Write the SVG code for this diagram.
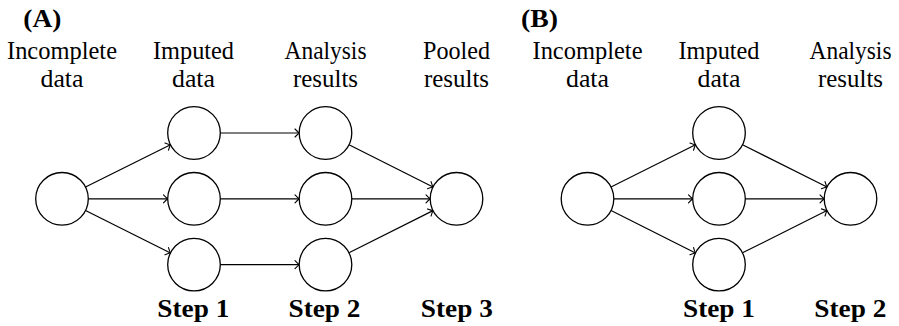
<svg xmlns="http://www.w3.org/2000/svg" width="899" height="326" viewBox="0 0 899 326">
  <style>
    .node { fill: #fff; stroke: #000; stroke-width: 1.3; }
    .edge { fill: none; stroke: #000; stroke-width: 1.2; marker-end: url(#arr); }
    .lbl { font-size: 24.4px; text-anchor: middle; }
    .bold { font-size: 25px; font-weight: bold; }
    .step { text-anchor: middle; }
  </style>
  <defs>
    <!-- open curved arrowhead, tip at the line end -->
    <marker id="arr" markerUnits="userSpaceOnUse" viewBox="-6 -5 7 10" refX="0" refY="0" markerWidth="7" markerHeight="10" orient="auto" overflow="visible">
      <path d="M -4.2 -4 Q -1.2 -0.9 0 0 Q -1.2 0.9 -4.2 4" fill="none" stroke="#000" stroke-width="1.1" stroke-linecap="round"/>
    </marker>
  </defs>

  <!-- Panel A -->
  <g id="panelA-labels" font-family="Liberation Serif, Tinos, Times New Roman, Times, FreeSerif, Noto Serif, DejaVu Serif, serif" fill="#000">
    <text class="bold" x="23.3" y="26.7" textLength="38" lengthAdjust="spacingAndGlyphs">(A)</text>
    <text class="lbl" x="62" y="59.3" textLength="110" lengthAdjust="spacingAndGlyphs">Incomplete</text>
    <text class="lbl" x="62" y="87.3" textLength="43" lengthAdjust="spacingAndGlyphs">data</text>
    <text class="lbl" x="193.5" y="59.3" textLength="81" lengthAdjust="spacingAndGlyphs">Imputed</text>
    <text class="lbl" x="193.5" y="87.3" textLength="43" lengthAdjust="spacingAndGlyphs">data</text>
    <text class="lbl" x="325.5" y="59.3" textLength="82" lengthAdjust="spacingAndGlyphs">Analysis</text>
    <text class="lbl" x="325.5" y="87.3" textLength="65" lengthAdjust="spacingAndGlyphs">results</text>
    <text class="lbl" x="456.5" y="59.3" textLength="67" lengthAdjust="spacingAndGlyphs">Pooled</text>
    <text class="lbl" x="456.5" y="87.3" textLength="65" lengthAdjust="spacingAndGlyphs">results</text>
    <text class="bold step" x="193.3" y="316.7" textLength="72" lengthAdjust="spacingAndGlyphs">Step 1</text>
    <text class="bold step" x="324.5" y="316.7" textLength="72" lengthAdjust="spacingAndGlyphs">Step 2</text>
    <text class="bold step" x="456.8" y="316.7" textLength="72" lengthAdjust="spacingAndGlyphs">Step 3</text>
  </g>

  <g id="edgesA">
    <line class="edge" x1="85.54" y1="187.07" x2="170.46" y2="144.73"/>
    <line class="edge" x1="88.3" y1="198.8" x2="167.7" y2="198.8"/>
    <line class="edge" x1="85.54" y1="210.53" x2="170.46" y2="253.07"/>
    <line class="edge" x1="220.3" y1="133" x2="299.2" y2="133"/>
    <line class="edge" x1="220.3" y1="198.8" x2="299.2" y2="198.8"/>
    <line class="edge" x1="220.3" y1="264.6" x2="299.2" y2="264.6"/>
    <line class="edge" x1="349" y1="144.8" x2="433" y2="187"/>
    <line class="edge" x1="351.8" y1="198.8" x2="430.2" y2="198.8"/>
    <line class="edge" x1="349" y1="252.8" x2="433" y2="210.6"/>
  </g>

  <g id="a-incomplete"><circle class="node" cx="62" cy="198.8" r="26.3"/></g>
  <g id="a-imputed-1"><circle class="node" cx="194" cy="133" r="26.3"/></g>
  <g id="a-imputed-2"><circle class="node" cx="194" cy="198.8" r="26.3"/></g>
  <g id="a-imputed-3"><circle class="node" cx="194" cy="264.6" r="26.3"/></g>
  <g id="a-analysis-1"><circle class="node" cx="325.5" cy="133" r="26.3"/></g>
  <g id="a-analysis-2"><circle class="node" cx="325.5" cy="198.8" r="26.3"/></g>
  <g id="a-analysis-3"><circle class="node" cx="325.5" cy="264.6" r="26.3"/></g>
  <g id="a-pooled"><circle class="node" cx="456.5" cy="198.8" r="26.3"/></g>

  <!-- Panel B -->
  <g id="panelB-labels" font-family="Liberation Serif, Tinos, Times New Roman, Times, FreeSerif, Noto Serif, DejaVu Serif, serif" fill="#000">
    <text class="bold" x="521" y="26.7" textLength="37" lengthAdjust="spacingAndGlyphs">(B)</text>
    <text class="lbl" x="587.5" y="59.3" textLength="110" lengthAdjust="spacingAndGlyphs">Incomplete</text>
    <text class="lbl" x="587.5" y="87.3" textLength="43" lengthAdjust="spacingAndGlyphs">data</text>
    <text class="lbl" x="719" y="59.3" textLength="81" lengthAdjust="spacingAndGlyphs">Imputed</text>
    <text class="lbl" x="719" y="87.3" textLength="43" lengthAdjust="spacingAndGlyphs">data</text>
    <text class="lbl" x="850.5" y="59.3" textLength="82" lengthAdjust="spacingAndGlyphs">Analysis</text>
    <text class="lbl" x="850.5" y="87.3" textLength="65" lengthAdjust="spacingAndGlyphs">results</text>
    <text class="bold step" x="719" y="316.7" textLength="72" lengthAdjust="spacingAndGlyphs">Step 1</text>
    <text class="bold step" x="850.3" y="316.7" textLength="72" lengthAdjust="spacingAndGlyphs">Step 2</text>
  </g>

  <g id="edgesB">
    <line class="edge" x1="611.02" y1="187.03" x2="695.48" y2="144.77"/>
    <line class="edge" x1="613.8" y1="198.8" x2="692.7" y2="198.8"/>
    <line class="edge" x1="611.02" y1="210.57" x2="695.48" y2="253.03"/>
    <line class="edge" x1="742.52" y1="144.77" x2="826.98" y2="187.03"/>
    <line class="edge" x1="745.3" y1="198.8" x2="824.2" y2="198.8"/>
    <line class="edge" x1="742.52" y1="252.83" x2="826.98" y2="210.57"/>
  </g>

  <g id="b-incomplete"><circle class="node" cx="587.5" cy="198.8" r="26.3"/></g>
  <g id="b-imputed-1"><circle class="node" cx="719" cy="133" r="26.3"/></g>
  <g id="b-imputed-2"><circle class="node" cx="719" cy="198.8" r="26.3"/></g>
  <g id="b-imputed-3"><circle class="node" cx="719" cy="264.6" r="26.3"/></g>
  <g id="b-analysis"><circle class="node" cx="850.5" cy="198.8" r="26.3"/></g>
</svg>
